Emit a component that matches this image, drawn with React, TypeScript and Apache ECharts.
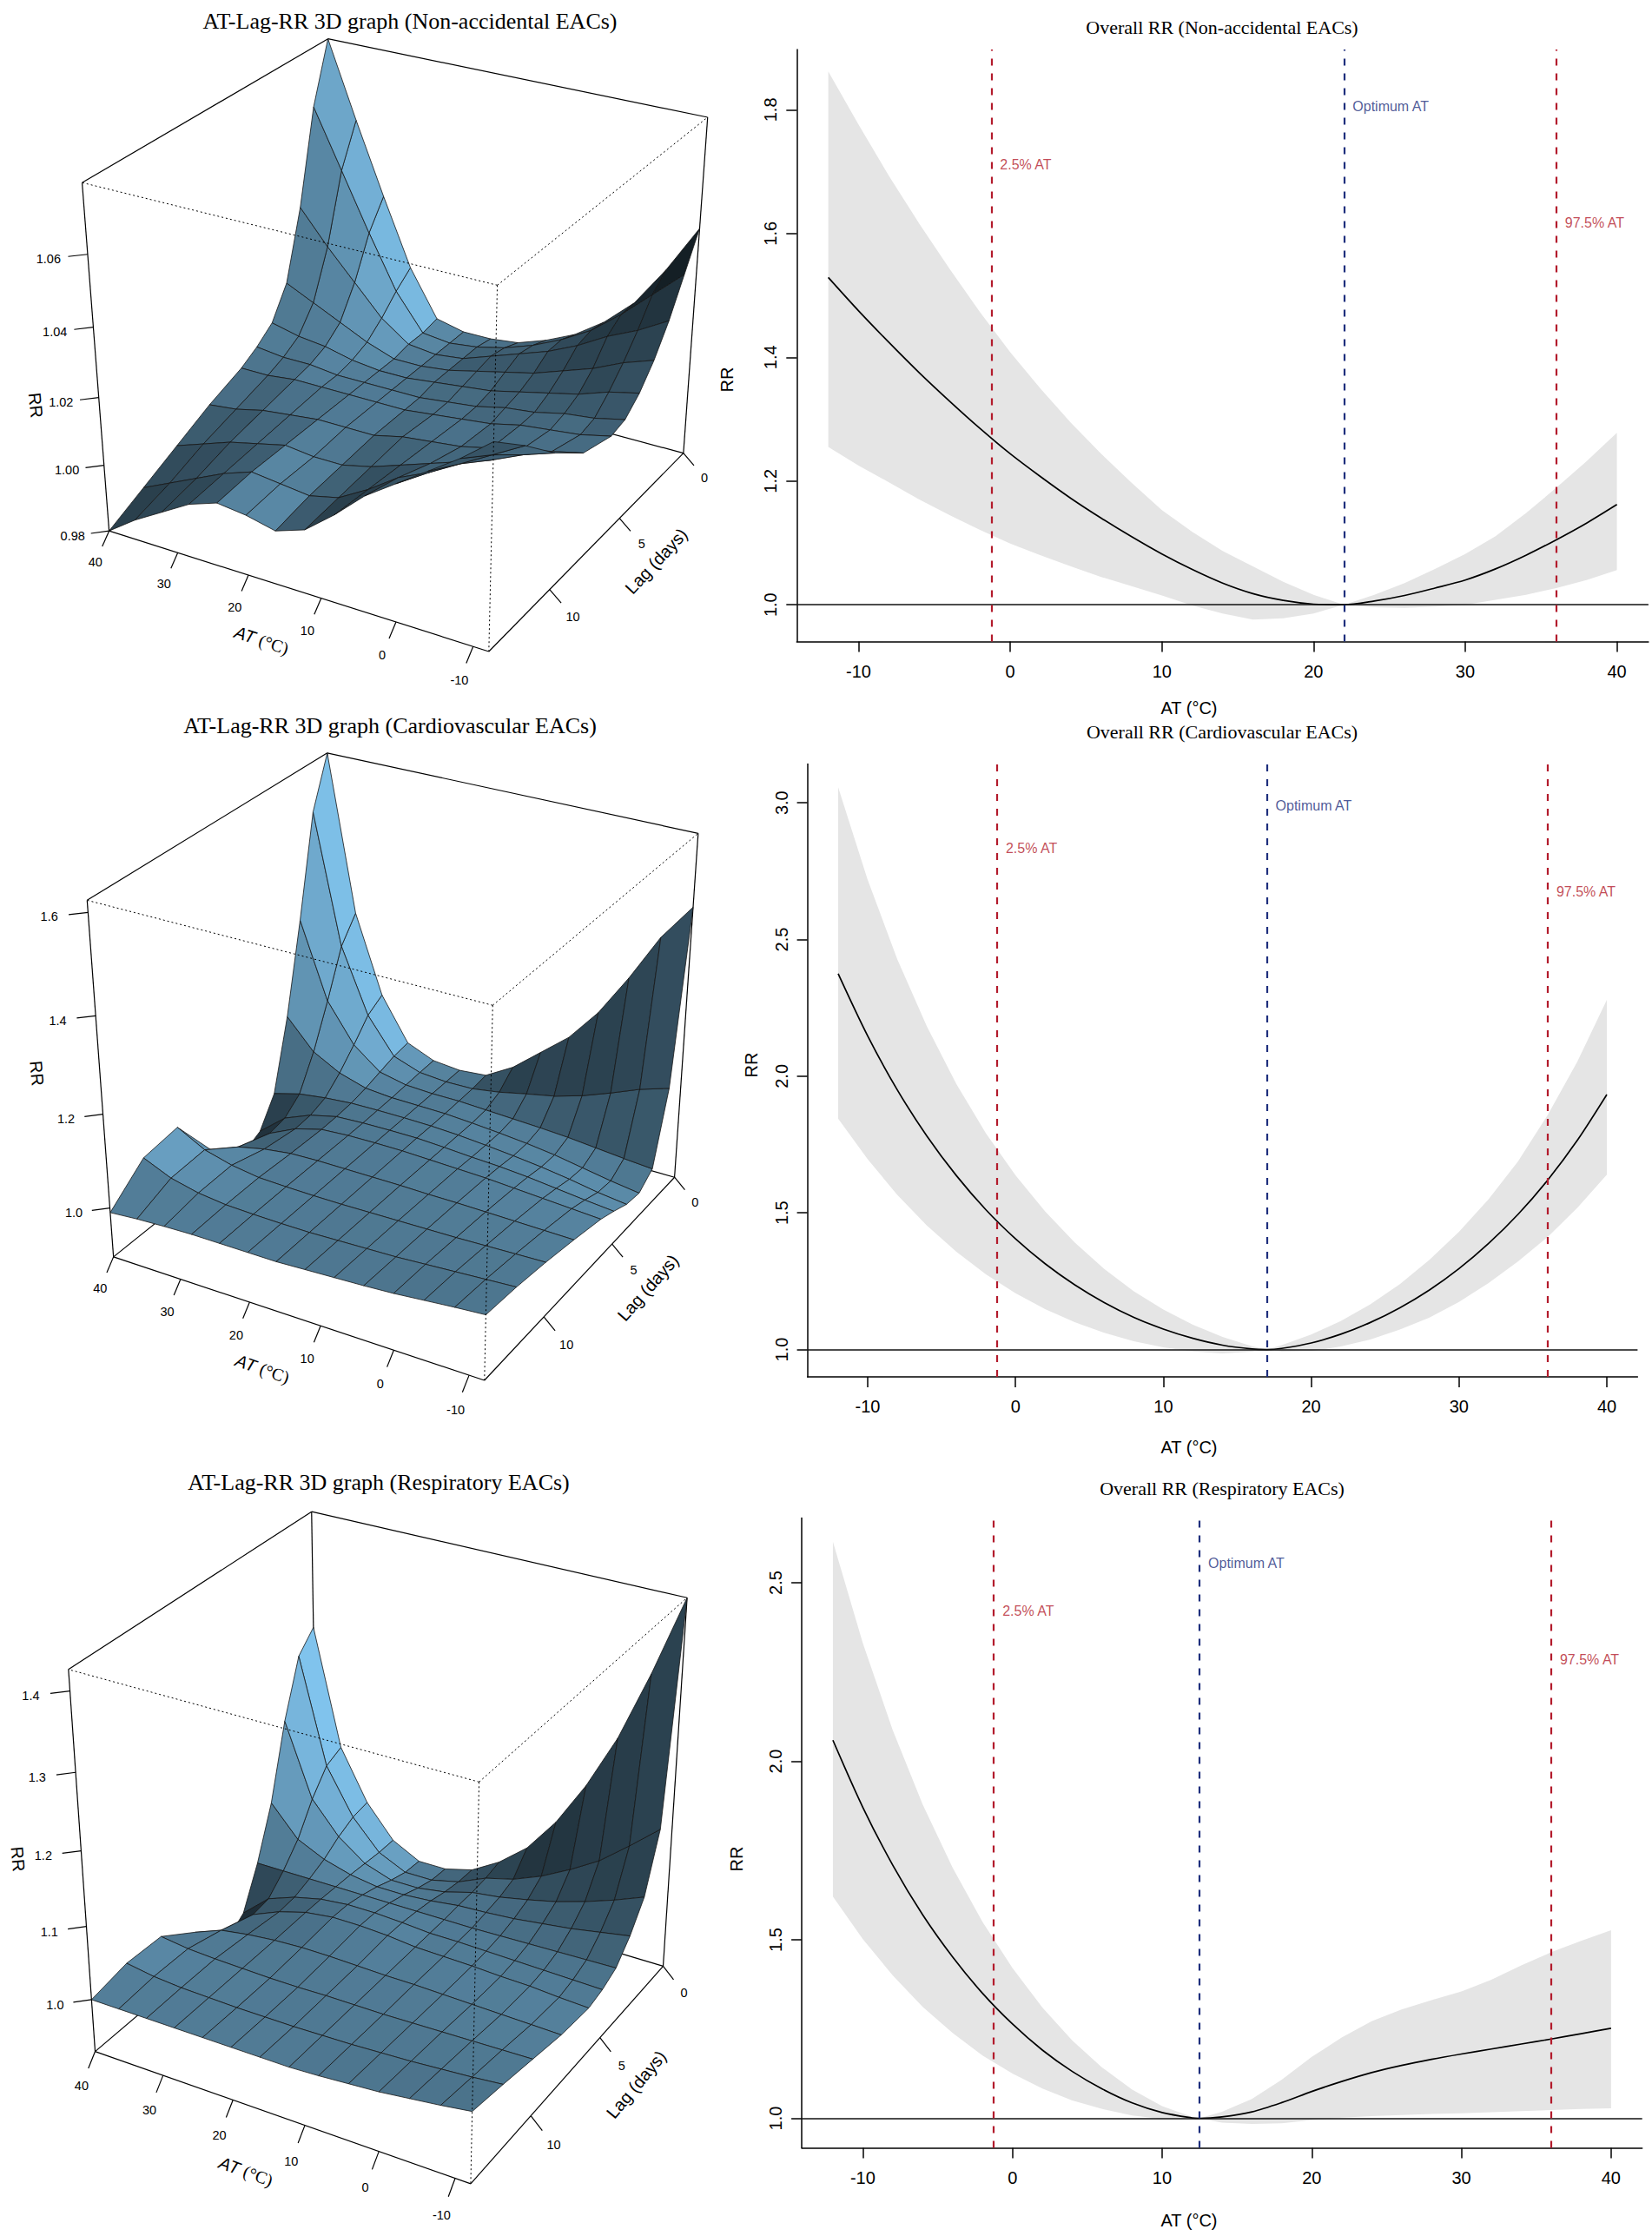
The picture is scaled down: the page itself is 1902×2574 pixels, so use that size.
import React, { useEffect, useRef } from "react";
import * as echarts from "echarts";

// ---------------- Overall RR curves (right column) ----------------
const NA_AT = [-12, -10, -8, -6, -4, -2, 0, 2, 4, 6, 8, 10, 12, 14, 16, 18, 20, 22, 24, 26, 28, 30, 32, 34, 36, 38, 40];
const NA_RR = [1.529, 1.475, 1.424, 1.375, 1.329, 1.285, 1.244, 1.207, 1.172, 1.14, 1.11, 1.082, 1.057, 1.035, 1.018, 1.007, 1.001, 1.0, 1.006, 1.015, 1.027, 1.04, 1.058, 1.08, 1.105, 1.132, 1.162];
const NA_HI = [1.862, 1.776, 1.693, 1.616, 1.543, 1.473, 1.408, 1.349, 1.294, 1.244, 1.197, 1.153, 1.118, 1.087, 1.062, 1.037, 1.016, 1.0, 1.016, 1.035, 1.058, 1.082, 1.111, 1.148, 1.189, 1.232, 1.278];
const NA_LO = [1.255, 1.225, 1.198, 1.17, 1.145, 1.121, 1.099, 1.08, 1.062, 1.045, 1.03, 1.015, 0.999, 0.986, 0.976, 0.978, 0.986, 1.0, 0.996, 0.995, 0.997, 1.0, 1.008, 1.016, 1.027, 1.04, 1.056];

const CV_AT = [-12, -10, -8, -6, -4, -2, 0, 2, 4, 6, 8, 10, 12, 14, 16, 17, 18, 20, 22, 24, 26, 28, 30, 32, 34, 36, 38, 40];
const CV_RR = [2.375, 2.147, 1.95, 1.781, 1.636, 1.511, 1.405, 1.314, 1.237, 1.172, 1.118, 1.075, 1.041, 1.016, 1.002, 1.0, 1.004, 1.024, 1.056, 1.099, 1.153, 1.218, 1.296, 1.388, 1.495, 1.62, 1.765, 1.933];
const CV_HI = [3.057, 2.718, 2.428, 2.182, 1.971, 1.791, 1.637, 1.505, 1.392, 1.295, 1.213, 1.146, 1.091, 1.046, 1.012, 1.0, 1.016, 1.055, 1.104, 1.165, 1.239, 1.328, 1.431, 1.55, 1.689, 1.858, 2.053, 2.279];
const CV_LO = [1.845, 1.696, 1.566, 1.454, 1.358, 1.275, 1.206, 1.148, 1.1, 1.061, 1.03, 1.008, 0.993, 0.986, 0.992, 1.0, 0.992, 0.994, 1.011, 1.037, 1.073, 1.117, 1.174, 1.243, 1.323, 1.412, 1.518, 1.64];

const RE_AT = [-12, -10, -8, -6, -4, -2, 0, 2, 4, 6, 8, 10, 12, 12.5, 14, 16, 18, 20, 22, 24, 26, 28, 30, 32, 34, 36, 38, 40];
const RE_RR = [2.059, 1.871, 1.709, 1.57, 1.452, 1.35, 1.264, 1.191, 1.131, 1.082, 1.043, 1.016, 1.001, 1.0, 1.004, 1.018, 1.044, 1.075, 1.103, 1.128, 1.148, 1.165, 1.18, 1.194, 1.208, 1.222, 1.237, 1.252];
const RE_HI = [2.615, 2.331, 2.087, 1.879, 1.702, 1.55, 1.421, 1.31, 1.218, 1.142, 1.08, 1.034, 1.004, 1.0, 1.018, 1.054, 1.108, 1.172, 1.226, 1.272, 1.305, 1.331, 1.355, 1.388, 1.428, 1.465, 1.497, 1.527];
const RE_LO = [1.621, 1.502, 1.4, 1.312, 1.239, 1.176, 1.125, 1.083, 1.05, 1.026, 1.008, 0.998, 0.998, 1.0, 0.988, 0.984, 0.986, 0.995, 1.002, 1.006, 1.009, 1.012, 1.014, 1.017, 1.02, 1.023, 1.026, 1.028];

const P25_AT = -1.25;
const P975_AT = 36;
const OPT_AT = [22, 17, 12.5];
const LABEL_RR = [
  [1.712, 1.806, 1.618],
  [2.833, 2.991, 2.675],
  [2.42, 2.554, 2.285],
];

const RIGHT_X_TICKS = [-10, 0, 10, 20, 30, 40];
const NA_Y_TICKS = [1.0, 1.2, 1.4, 1.6, 1.8];
const CV_Y_TICKS = [1.0, 1.5, 2.0, 2.5, 3.0];
const RE_Y_TICKS = [1.0, 1.5, 2.0, 2.5];

// ---------------- AT-Lag-RR surfaces (left column) ----------------
const SURF_AT = [-12, -8, -4, 0, 4, 8, 12, 16, 20, 24, 28, 32, 36, 40];
const SURF_LAG = [0, 1, 2, 3, 4, 5, 6, 8, 10, 12, 14];

const NA_SURF = [
  [1.048, 1.034, 1.022, 1.014, 1.008, 1.004, 1.001, 1.0, 1.0, 1.002, 1.016, 1.036, 1.057, 1.079],
  [1.038, 1.03, 1.022, 1.015, 1.01, 1.006, 1.003, 1.001, 1.0, 1.001, 1.012, 1.028, 1.045, 1.062],
  [1.028, 1.023, 1.019, 1.014, 1.01, 1.007, 1.004, 1.001, 1.0, 1.001, 1.007, 1.016, 1.025, 1.035],
  [1.02, 1.017, 1.013, 1.01, 1.007, 1.005, 1.003, 1.001, 1.0, 1.0, 1.003, 1.007, 1.011, 1.015],
  [1.014, 1.012, 1.009, 1.007, 1.005, 1.003, 1.002, 1.001, 1.0, 1.0, 1.001, 1.003, 1.004, 1.006],
  [1.01, 1.008, 1.007, 1.005, 1.004, 1.002, 1.001, 1.0, 1.0, 1.0, 1.0, 1.001, 1.001, 1.002],
  [1.009, 1.007, 1.006, 1.005, 1.003, 1.002, 1.001, 1.0, 1.0, 1.0, 1.0, 1.0, 0.999, 0.999],
  [1.012, 1.01, 1.008, 1.006, 1.004, 1.003, 1.002, 1.0, 1.0, 1.0, 0.999, 0.998, 0.996, 0.995],
  [1.02, 1.017, 1.013, 1.01, 1.007, 1.004, 1.001, 0.999, 0.999, 1.0, 0.998, 0.996, 0.993, 0.99],
  [1.03, 1.025, 1.02, 1.015, 1.011, 1.005, 1.0, 0.998, 0.999, 1.0, 0.997, 0.993, 0.989, 0.985],
  [1.039, 1.032, 1.026, 1.02, 1.014, 1.006, 0.999, 0.996, 0.998, 0.999, 0.996, 0.991, 0.986, 0.98],
];

const CV_SURF = [
  [1.476, 1.4, 1.3, 1.21, 1.14, 1.09, 1.04, 1.005, 1.0, 1.006, 1.031, 1.125, 1.294, 1.623],
  [1.12, 1.101, 1.076, 1.053, 1.035, 1.023, 1.01, 1.001, 1.0, 1.005, 1.026, 1.104, 1.244, 1.52],
  [0.97, 0.975, 0.981, 0.987, 0.991, 0.994, 0.997, 1.0, 1.0, 1.003, 1.016, 1.062, 1.146, 1.31],
  [0.945, 0.954, 0.965, 0.976, 0.984, 0.99, 0.995, 0.999, 1.0, 1.001, 1.006, 1.024, 1.056, 1.12],
  [0.95, 0.958, 0.969, 0.978, 0.985, 0.991, 0.996, 0.999, 1.0, 1.0, 0.999, 0.994, 0.986, 0.97],
  [0.965, 0.971, 0.978, 0.985, 0.99, 0.993, 0.997, 1.0, 1.0, 0.999, 0.996, 0.982, 0.958, 0.91],
  [0.978, 0.982, 0.986, 0.99, 0.994, 0.996, 0.998, 1.0, 1.0, 0.999, 0.995, 0.979, 0.951, 0.892],
  [0.995, 0.996, 0.997, 0.998, 0.999, 0.999, 1.0, 1.0, 1.0, 1.0, 0.998, 0.99, 0.977, 0.95],
  [1.01, 1.008, 1.006, 1.004, 1.003, 1.002, 1.001, 1.0, 1.0, 1.001, 1.003, 1.012, 1.028, 1.06],
  [1.022, 1.018, 1.014, 1.01, 1.006, 1.004, 1.002, 1.0, 1.0, 1.001, 1.003, 1.01, 1.024, 1.05],
  [1.03, 1.025, 1.019, 1.013, 1.009, 1.006, 1.003, 1.0, 1.0, 1.0, 1.0, 0.998, 0.995, 0.99],
];

const RE_SURF = [
  [1.426, 1.32, 1.225, 1.15, 1.088, 1.04, 1.008, 0.985, 0.975, 0.975, 0.995, 1.04, 1.11, 1.27],
  [1.14, 1.106, 1.074, 1.05, 1.029, 1.013, 1.003, 0.986, 0.977, 0.977, 0.995, 1.036, 1.1, 1.245],
  [1.065, 1.049, 1.035, 1.023, 1.014, 1.006, 1.001, 0.99, 0.984, 0.984, 0.997, 1.025, 1.069, 1.17],
  [1.03, 1.023, 1.016, 1.011, 1.006, 1.003, 1.001, 0.996, 0.993, 0.993, 0.999, 1.01, 1.028, 1.07],
  [1.005, 1.004, 1.003, 1.002, 1.001, 1.0, 1.0, 1.0, 1.0, 1.0, 1.0, 1.0, 1.0, 1.0],
  [0.995, 0.996, 0.997, 0.998, 0.999, 1.0, 1.0, 1.003, 1.005, 1.005, 1.001, 0.992, 0.978, 0.945],
  [0.99, 0.992, 0.995, 0.996, 0.998, 0.999, 1.0, 1.004, 1.006, 1.006, 1.001, 0.99, 0.974, 0.927],
  [0.995, 0.996, 0.997, 0.998, 0.999, 1.0, 1.0, 1.001, 1.002, 1.002, 1.0, 0.996, 0.99, 0.975],
  [1.005, 1.004, 1.003, 1.002, 1.001, 1.0, 1.0, 1.0, 0.999, 0.999, 1.0, 1.001, 1.003, 1.008],
  [1.015, 1.011, 1.008, 1.005, 1.003, 1.001, 1.0, 0.999, 0.999, 0.999, 1.0, 1.001, 1.004, 1.01],
  [1.024, 1.018, 1.013, 1.008, 1.005, 1.002, 1.0, 1.0, 1.0, 1.0, 1.0, 1.0, 1.0, 1.0],
];

const AT_TICKS_3D = [-10, 0, 10, 20, 30, 40];
const LAG_TICKS_3D = [0, 5, 10];
const NA_Z_TICKS = [0.98, 1.0, 1.02, 1.04, 1.06];
const CV_Z_TICKS = [1.0, 1.2, 1.4, 1.6];
const RE_Z_TICKS = [1.0, 1.1, 1.2, 1.3, 1.4];

// ---------------- layout & style ----------------
const PAGE_W = 1902;
const PAGE_H = 2574;
const SANS = "Liberation Sans, Arial, Helvetica, sans-serif";
const SERIF = "Liberation Serif, Times New Roman, serif";
const RED = "#b31b2c";
const BLUE = "#1e2f7d";
const BAND = "#e5e5e5";

// R persp view (theta, phi, r, d) and lighting (ltheta, shade, col)
const VIEW = { theta: 210, phi: 30, r: Math.sqrt(3), d: 5 };
const LTHETA = 290;
const SHADE = 0.75;
const SURF_RGB = [135, 206, 250];
const TICK_LEN = 0.06;
const TITLE_OFF = 0.2;

const PANELS_3D = [
  { title: "AT-Lag-RR 3D graph (Non-accidental EACs)", tx: 472, ty: 24, ox: 464.8, oy: 376.8, sx: 591.7, sy: 532.4, surf: NA_SURF, zTicks: NA_Z_TICKS, zDigits: 2 },
  { title: "AT-Lag-RR 3D graph (Cardiovascular EACs)", tx: 449, ty: 835, ox: 462, oy: 1206.9, sx: 578, sy: 545.1, surf: CV_SURF, zTicks: CV_Z_TICKS, zDigits: 1 },
  { title: "AT-Lag-RR 3D graph (Respiratory EACs)", tx: 436, ty: 1706, ox: 445, oy: 2104.5, sx: 585.2, sy: 584.0, surf: RE_SURF, zTicks: RE_Z_TICKS, zDigits: 1 },
];

const PANELS_RIGHT = [
  { title: "Overall RR (Non-accidental EACs)", ty: 31, nameY: 815, rrX: 837, rrY: 437, grid: { left: 917.3, top: 57, width: 980.6, height: 681.5 }, yMin: 0.9406, yMax: 1.8974, yTicks: NA_Y_TICKS, x: NA_AT, rr: NA_RR, hi: NA_HI, lo: NA_LO },
  { title: "Overall RR (Cardiovascular EACs)", ty: 842, nameY: 1666, rrX: 865, rrY: 1226, grid: { left: 929.6, top: 879.5, width: 955.8, height: 705.5 }, yMin: 0.9, yMax: 3.142, yTicks: CV_Y_TICKS, x: CV_AT, rr: CV_RR, hi: CV_HI, lo: CV_LO },
  { title: "Overall RR (Respiratory EACs)", ty: 1713, nameY: 2556, rrX: 848, rrY: 2140, grid: { left: 923.1, top: 1747.6, width: 967.6, height: 725 }, yMin: 0.917, yMax: 2.681, yTicks: RE_Y_TICKS, x: RE_AT, rr: RE_RR, hi: RE_HI, lo: RE_LO },
];

// ---------------- 3D helpers ----------------
function makeProjector(p: any) {
  const flat = p.surf.flat();
  const zmin = Math.min(...flat);
  const zmax = Math.max(...flat);
  const th = (VIEW.theta * Math.PI) / 180;
  const ph = (VIEW.phi * Math.PI) / 180;
  const ct = Math.cos(th), st = Math.sin(th), cp = Math.cos(ph), sp = Math.sin(ph);
  const at0 = SURF_AT[0], at1 = SURF_AT[SURF_AT.length - 1];
  const l0 = SURF_LAG[0], l1 = SURF_LAG[SURF_LAG.length - 1];
  const nu = (at: number) => (2 * (at - at0)) / (at1 - at0) - 1;
  const nv = (lag: number) => (2 * (lag - l0)) / (l1 - l0) - 1;
  const nw = (z: number) => (2 * (z - zmin)) / (zmax - zmin) - 1;
  const proj = (u: number, v: number, w: number) => {
    const X3 = u * ct + v * st;
    const Z2 = u * st - v * ct;
    const Y3 = w * cp - Z2 * sp;
    const Z3 = w * sp + Z2 * cp;
    const Wd = 1 + (VIEW.r + VIEW.d - Z3) / VIEW.d;
    return [p.ox + (p.sx * X3) / Wd, p.oy - (p.sy * Y3) / Wd, Wd];
  };
  return { nu, nv, nw, proj };
}

function cellOrder(p: any, pr: any) {
  const cells: number[][] = [];
  for (let i = 0; i < SURF_LAG.length - 1; i++) {
    for (let j = 0; j < SURF_AT.length - 1; j++) {
      const u = pr.nu((SURF_AT[j] + SURF_AT[j + 1]) / 2);
      const v = pr.nv((SURF_LAG[i] + SURF_LAG[i + 1]) / 2);
      const z = (p.surf[i][j] + p.surf[i][j + 1] + p.surf[i + 1][j] + p.surf[i + 1][j + 1]) / 4;
      const depth = pr.proj(u, v, pr.nw(z))[2];
      cells.push([i, j, depth]);
    }
  }
  cells.sort((a, b) => b[2] - a[2]);
  return cells.map((c) => [c[0], c[1]]);
}

const LIGHT = (() => {
  const t = (LTHETA * Math.PI) / 180;
  return [Math.sin(t), -Math.cos(t), 0];
})();

function seg(a: number[], b: number[], dashed = false, width = 1.2) {
  return {
    type: "line",
    shape: { x1: a[0], y1: a[1], x2: b[0], y2: b[1] },
    style: { stroke: "#000", lineWidth: width, lineDash: dashed ? [2, 3] : null },
  };
}

function txt(s: string, at: number[], size: number, rotation = 0, family = SANS, rich?: any) {
  const style: any = {
    text: s,
    fontSize: size,
    fontFamily: family,
    fill: "#000",
    align: "center",
    verticalAlign: "middle",
    textAlign: "center",
    textVerticalAlign: "middle",
  };
  if (rich) style.rich = rich;
  return { type: "text", x: at[0], y: at[1], rotation, style };
}

function foldAngle(a: number[], b: number[]) {
  let ang = Math.atan2(-(b[1] - a[1]), b[0] - a[0]);
  if (ang > Math.PI / 2) ang -= Math.PI;
  if (ang < -Math.PI / 2) ang += Math.PI;
  return ang;
}

function series3D(p: any, idx: number) {
  const pr = makeProjector(p);
  const P = pr.proj;
  const L = P(1, 1, -1), F = P(-1, 1, -1), R = P(-1, -1, -1), B = P(1, -1, -1);
  const Lt = P(1, 1, 1), Ft = P(-1, 1, 1), Rt = P(-1, -1, 1), Bt = P(1, -1, 1);

  const back = {
    type: "custom",
    name: "box-back-" + idx,
    coordinateSystem: "none",
    silent: true,
    z: 1,
    data: [[0]],
    renderItem: () => ({
      type: "group",
      children: [seg(L, B), seg(B, R), seg(B, Bt), seg(Bt, Lt), seg(Lt, L), seg(R, Rt), seg(Rt, Bt), seg(L, F), seg(F, R)],
    }),
  };

  const surface = {
    type: "custom",
    name: "surface-" + idx,
    coordinateSystem: "none",
    silent: true,
    z: 2,
    data: cellOrder(p, pr),
    renderItem: (params: any, api: any) => {
      const i = api.value(0);
      const j = api.value(1);
      const corners = [
        [i, j],
        [i, j + 1],
        [i + 1, j + 1],
        [i + 1, j],
      ];
      const n3 = corners.map(([a, b]) => [pr.nu(SURF_AT[b]), pr.nv(SURF_LAG[a]), pr.nw(p.surf[a][b])]);
      const pts = n3.map((q) => {
        const s = P(q[0], q[1], q[2]);
        return [s[0], s[1]];
      });
      const d1 = [n3[2][0] - n3[0][0], n3[2][1] - n3[0][1], n3[2][2] - n3[0][2]];
      const d2 = [n3[3][0] - n3[1][0], n3[3][1] - n3[1][1], n3[3][2] - n3[1][2]];
      let nx = d1[1] * d2[2] - d1[2] * d2[1];
      let ny = d1[2] * d2[0] - d1[0] * d2[2];
      let nz = d1[0] * d2[1] - d1[1] * d2[0];
      const len = Math.sqrt(nx * nx + ny * ny + nz * nz) || 1;
      nx /= len; ny /= len; nz /= len;
      if (nz < 0) { nx = -nx; ny = -ny; nz = -nz; }
      const dot = nx * LIGHT[0] + ny * LIGHT[1] + nz * LIGHT[2];
      const sh = Math.pow((1 + dot) / 2, SHADE);
      const fill = `rgb(${Math.round(SURF_RGB[0] * sh)},${Math.round(SURF_RGB[1] * sh)},${Math.round(SURF_RGB[2] * sh)})`;
      return {
        type: "polygon",
        z2: params.dataIndex,
        shape: { points: pts },
        style: { fill, stroke: "#151515", lineWidth: 0.8 },
      };
    },
  };

  const front = {
    type: "custom",
    name: "box-front-" + idx,
    coordinateSystem: "none",
    silent: true,
    z: 3,
    data: [[0]],
    renderItem: () => {
      const kids: any[] = [seg(Ft, F, true, 1), seg(Ft, Lt, true, 1), seg(Ft, Rt, true, 1)];
      const T = TICK_LEN;
      AT_TICKS_3D.forEach((t) => {
        const u = pr.nu(t);
        kids.push(seg(P(u, 1, -1), P(u, 1 + T, -1 - T), false, 1.2));
        kids.push(txt(String(t), P(u, 1 + 2 * T, -1 - 2 * T), 14.5));
      });
      LAG_TICKS_3D.forEach((t) => {
        const v = pr.nv(t);
        kids.push(seg(P(-1, v, -1), P(-1 - T, v, -1 - T), false, 1.2));
        kids.push(txt(String(t), P(-1 - 2 * T, v, -1 - 2 * T), 14.5));
      });
      p.zTicks.forEach((t: number) => {
        const w = pr.nw(t);
        kids.push(seg(P(1, 1, w), P(1 + T, 1 + T, w), false, 1.2));
        kids.push(txt(t.toFixed(p.zDigits), P(1 + 2 * T, 1 + 2 * T, w), 14.5));
      });
      const K = TITLE_OFF;
      const atMid = pr.nu((AT_TICKS_3D[0] + AT_TICKS_3D[AT_TICKS_3D.length - 1]) / 2);
      const atRot = foldAngle(P(-1, 1 + K, -1 - K), P(1, 1 + K, -1 - K));
      kids.push(
        txt("{a|AT} {b|(°C)}", P(atMid, 1 + K, -1 - K), 20, atRot, SANS, {
          a: { fontStyle: "italic", fontFamily: SANS, fontSize: 20, fill: "#000" },
          b: { fontFamily: SERIF, fontSize: 20, fill: "#000" },
        })
      );
      const lagMid = pr.nv((LAG_TICKS_3D[0] + LAG_TICKS_3D[LAG_TICKS_3D.length - 1]) / 2);
      const lagRot = foldAngle(P(-1 - K, -1, -1 - K), P(-1 - K, 1, -1 - K));
      kids.push(txt("Lag (days)", P(-1 - K, lagMid, -1 - K), 20, lagRot));
      const zMid = pr.nw((p.zTicks[0] + p.zTicks[p.zTicks.length - 1]) / 2);
      const zRot = foldAngle(P(1 + K, 1 + K, -1), P(1 + K, 1 + K, 1));
      kids.push(txt("RR", P(1 + K, 1 + K, zMid), 20, zRot));
      return { type: "group", children: kids };
    },
  };
  return [back, surface, front];
}

// ---------------- right-hand charts ----------------
function rightSeries(c: any, k: number) {
  return [
    {
      // confidence band: one polygon built from the upper and lower limits through the axes
      type: "custom", xAxisIndex: k, yAxisIndex: k, silent: true, z: 1, clip: true,
      data: c.x.map((x: number, i: number) => [x, c.lo[i], c.hi[i]]),
      encode: { x: 0, y: [1, 2] },
      renderItem: (params: any, api: any) => {
        if (params.dataIndex !== 0) return null;
        const top = c.x.map((x: number, i: number) => api.coord([x, c.hi[i]]));
        const bot = c.x.map((x: number, i: number) => api.coord([x, c.lo[i]])).reverse();
        return {
          type: "polygon",
          shape: { points: top.concat(bot), smooth: 0 },
          style: { fill: BAND, stroke: null },
        };
      },
    },
    {
      type: "line", xAxisIndex: k, yAxisIndex: k, symbol: "none", smooth: 0.3, silent: true, z: 3,
      lineStyle: { color: "#000", width: 1.7 },
      data: c.x.map((x: number, i: number) => [x, c.rr[i]]),
      markLine: {
        silent: true, animation: false, symbol: ["none", "none"], label: { show: false },
        data: [
          { yAxis: 1, lineStyle: { color: "#111", width: 1.7, type: "solid" } },
          { xAxis: P25_AT, lineStyle: { color: RED, width: 2.2, type: [8, 9] } },
          { xAxis: OPT_AT[k], lineStyle: { color: BLUE, width: 2.2, type: [8, 9] } },
          { xAxis: P975_AT, lineStyle: { color: RED, width: 2.2, type: [8, 9] } },
        ],
      },
    },
    {
      type: "scatter", xAxisIndex: k, yAxisIndex: k, symbolSize: 0, silent: true, z: 4,
      label: { show: true, position: "right", distance: 10, fontSize: 16, fontFamily: SANS },
      data: [
        { value: [P25_AT, LABEL_RR[k][0]], label: { formatter: "2.5% AT", color: RED } },
        { value: [OPT_AT[k], LABEL_RR[k][1]], label: { formatter: "Optimum AT", color: BLUE } },
        { value: [P975_AT, LABEL_RR[k][2]], label: { formatter: "97.5% AT", color: RED } },
      ],
    },
  ];
}

function gtext(s: string, x: number, y: number, size: number, family: string, rotation = 0) {
  return {
    type: "text", x, y, rotation, silent: true,
    style: {
      text: s, fontSize: size, fontFamily: family, fill: "#000",
      align: "center", verticalAlign: "middle", textAlign: "center", textVerticalAlign: "middle",
    },
  };
}

function buildOption() {
  const grids = PANELS_RIGHT.map((c) => ({ ...c.grid, containLabel: false }));
  const axisLineStyle = { color: "#000", width: 1.5 };
  const xAxes = PANELS_RIGHT.map((c, k) => ({
    gridIndex: k, type: "value", min: -14.08, max: 42.08,
    axisLine: { show: true, onZero: false, lineStyle: axisLineStyle },
    axisTick: { show: true, inside: false, length: 12, customValues: RIGHT_X_TICKS, lineStyle: axisLineStyle },
    axisLabel: { show: true, customValues: RIGHT_X_TICKS, margin: 24, fontSize: 20, fontFamily: SANS, color: "#000", formatter: (v: number) => String(v) },
    splitLine: { show: false },
  }));
  const yAxes = PANELS_RIGHT.map((c, k) => ({
    gridIndex: k, type: "value", min: c.yMin, max: c.yMax,
    axisLine: { show: true, onZero: false, lineStyle: axisLineStyle },
    axisTick: { show: true, inside: false, length: 12, customValues: c.yTicks, lineStyle: axisLineStyle },
    axisLabel: {
      show: true, customValues: c.yTicks, rotate: 90, align: "center", verticalAlign: "bottom", margin: 20,
      fontSize: 20, fontFamily: SANS, color: "#000", formatter: (v: number) => v.toFixed(1),
    },
    splitLine: { show: false },
  }));

  const series: any[] = [];
  PANELS_3D.forEach((p, i) => series.push(...series3D(p, i)));
  PANELS_RIGHT.forEach((c, k) => series.push(...rightSeries(c, k)));

  const elements: any[] = [];
  PANELS_3D.forEach((p) => elements.push(gtext(p.title, p.tx, p.ty, 26, SERIF)));
  PANELS_RIGHT.forEach((c) => {
    elements.push(gtext(c.title, 1407, c.ty, 22, SERIF));
    elements.push(gtext("AT (°C)", 1369, c.nameY, 20, SANS));
    elements.push(gtext("RR", c.rrX, c.rrY, 20, SANS, Math.PI / 2));
  });

  return {
    animation: false,
    backgroundColor: "#ffffff",
    grid: grids,
    xAxis: xAxes,
    yAxis: yAxes,
    series,
    graphic: { elements },
  };
}

export default function App() {
  const ref = useRef<HTMLDivElement>(null);
  useEffect(() => {
    document.body.style.margin = "0";
    if (!ref.current) return;
    const chart = echarts.init(ref.current, undefined, { renderer: "svg", width: PAGE_W, height: PAGE_H });
    chart.setOption(buildOption() as any);
    return () => chart.dispose();
  }, []);
  return <div ref={ref} style={{ width: PAGE_W, height: PAGE_H, background: "#fff" }} />;
}
